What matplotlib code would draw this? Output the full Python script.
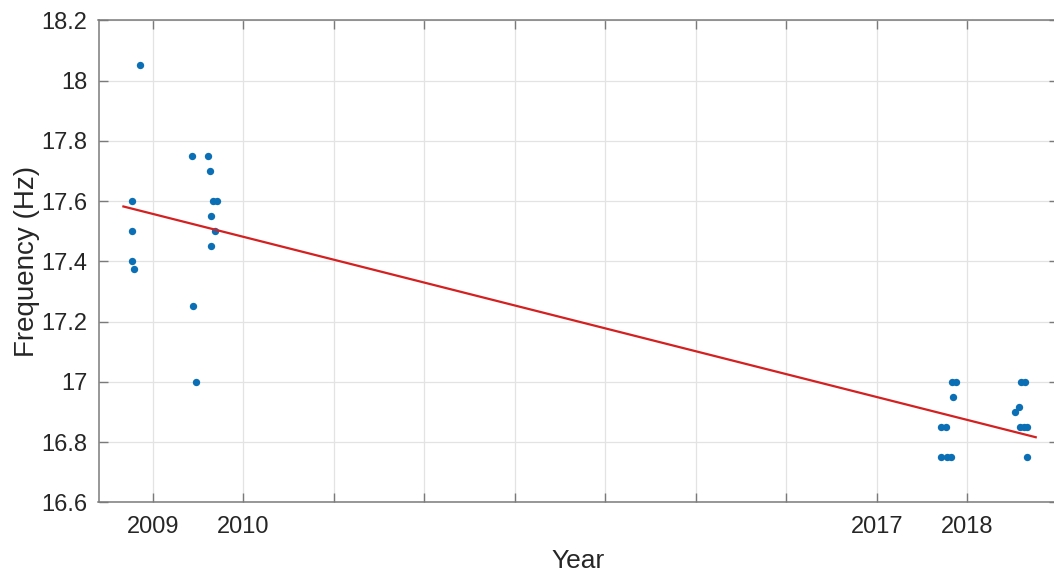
import matplotlib
matplotlib.use("Agg")
import matplotlib.pyplot as plt

# ---- data ----
years = [2008.86, 2008.77, 2008.77, 2008.77, 2008.79,
         2009.43, 2009.445, 2009.48, 2009.61, 2009.63, 2009.67, 2009.71, 2009.64, 2009.69, 2009.64,
         2017.83, 2017.87, 2017.84, 2017.71, 2017.76, 2017.71, 2017.77, 2017.82,
         2018.59, 2018.63, 2018.57, 2018.52, 2018.58, 2018.62, 2018.66, 2018.66]
freqs = [18.05, 17.6, 17.5, 17.4, 17.375,
         17.75, 17.25, 17.0, 17.75, 17.7, 17.6, 17.6, 17.55, 17.5, 17.45,
         17.0, 17.0, 16.95, 16.85, 16.85, 16.75, 16.75, 16.75,
         17.0, 17.0, 16.916, 16.9, 16.85, 16.85, 16.85, 16.75]
trend_years = [2008.675, 2018.754]
trend_freqs = [17.582, 16.816]

xtick_years = [2009, 2010, 2011, 2012, 2013, 2014, 2015, 2016, 2017, 2018]
xtick_labels = ["2009", "2010", "", "", "", "", "", "", "2017", "2018"]
ytick_vals = [16.6, 16.8, 17.0, 17.2, 17.4, 17.6, 17.8, 18.0, 18.2]
ytick_labels = ["16.6", "16.8", "17", "17.2", "17.4", "17.6", "17.8", "18", "18.2"]

plt.rcParams['font.family'] = ['Liberation Sans', 'DejaVu Sans']

fig = plt.figure(figsize=(10.54, 5.74), dpi=100)
ax = fig.add_axes([98.5 / 1054, 1 - 502.3 / 574, (1058 - 98.5) / 1054, (502.3 - 20.3) / 574])

ax.plot(years, freqs, 'o', color='#0b6fb5', markersize=5.3, markeredgewidth=0, zorder=3)
ax.plot(trend_years, trend_freqs, '-', color='#d42020', linewidth=1.6, zorder=4)

ax.set_xlim(2008.4, 2019.0)
ax.set_ylim(16.6, 18.2)
ax.set_xticks(xtick_years)
ax.set_xticklabels(xtick_labels)
ax.set_yticks(ytick_vals)
ax.set_yticklabels(ytick_labels)

ax.grid(True, color='#e3e3e3', linewidth=0.9, zorder=0)
ax.set_axisbelow(True)

for s in ax.spines.values():
    s.set_color('#7a7a7a')
    s.set_linewidth(1.1)

ax.tick_params(axis='both', which='both', direction='in', length=6.3, width=1.0,
               color='#7a7a7a', top=True, right=True, labelsize=17, labelcolor='#262626')
ax.tick_params(axis='x', pad=10)
ax.tick_params(axis='y', pad=8)

ax.set_xlabel("Year", fontsize=19, color='#262626', labelpad=8)
ax.set_ylabel("Frequency (Hz)", fontsize=20, color='#262626', labelpad=1)

fig.savefig("out.png", dpi=100)
